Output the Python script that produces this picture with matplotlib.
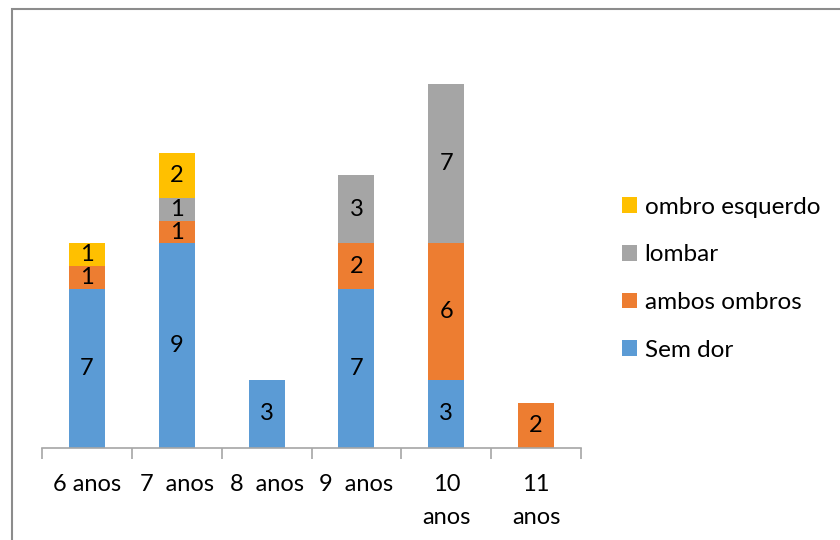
import numpy as np
import matplotlib.pyplot as plt
from matplotlib.patches import Rectangle

categories = ["6 anos", "7  anos", "8  anos", "9  anos", "10\nanos", "11\nanos"]
series_names = ["Sem dor", "ambos ombros", "lombar", "ombro esquerdo"]
sem_dor = [7, 9, 3, 7, 3, 0]
ambos_ombros = [1, 1, 0, 2, 6, 2]
lombar = [0, 1, 0, 3, 7, 0]
ombro_esquerdo = [1, 2, 0, 0, 0, 0]
colors = ["#5B9BD5", "#ED7D31", "#A5A5A5", "#FFC000"]

plt.rcParams['font.family'] = ['Lato', 'DejaVu Sans']

fig = plt.figure(figsize=(8.4, 5.4), dpi=100)
ax = fig.add_axes([0.05, 0.1704, 0.6417, 0.7574])

x = np.arange(len(categories))
bottom = np.zeros(len(categories))
for name, vals, col in zip(series_names, [sem_dor, ambos_ombros, lombar, ombro_esquerdo], colors):
    vals = np.array(vals, dtype=float)
    bars = ax.bar(x, vals, 0.4, bottom=bottom, color=col, label=name)
    labels = [str(int(v)) if v > 0 else "" for v in vals]
    ax.bar_label(bars, labels=labels, label_type='center', fontsize=17, color='black')
    bottom += vals

ax.set_xlim(-0.5, len(categories) - 0.5)
ax.set_ylim(0, 18)
ax.set_yticks([])
for s in ["top", "right", "left"]:
    ax.spines[s].set_visible(False)
ax.spines["bottom"].set_color("#A6A6A6")
ax.spines["bottom"].set_linewidth(1.2)

# category labels at centers, tick marks at boundaries
ax.set_xticks(x)
ax.set_xticklabels(categories, fontsize=17, linespacing=1.7)
ax.tick_params(axis='x', which='major', length=0, pad=19)
ax.set_xticks(np.arange(len(categories) + 1) - 0.5, minor=True)
ax.tick_params(axis='x', which='minor', length=8, color="#A6A6A6", width=1.2)
for lbl in ax.get_xticklabels():
    lbl.set_verticalalignment('top')

handles, labs = ax.get_legend_handles_labels()
leg = ax.legend(handles[::-1], labs[::-1], loc='center left', bbox_to_anchor=(1.036, 0.414),
                frameon=False, fontsize=17.5, handlelength=0.62, handleheight=0.62,
                handletextpad=0.3, labelspacing=1.1)

# outer chart border (left and top visible)
fig.patches.append(Rectangle((12 / 840, -0.1), 1.2, (540 - 9) / 540 + 0.1,
                             transform=fig.transFigure, fill=False,
                             edgecolor="#8C8C8C", linewidth=1.5))

fig.savefig("out.png", dpi=100)
